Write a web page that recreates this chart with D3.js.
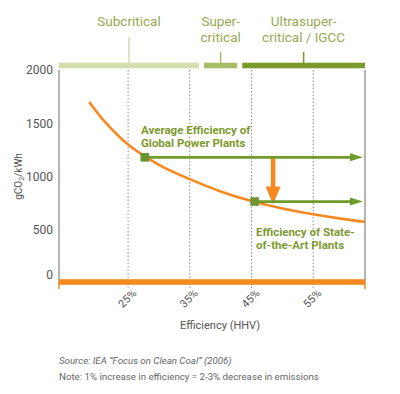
<!DOCTYPE html>
<html>
<head>
<meta charset="utf-8">
<script src="https://cdn.jsdelivr.net/npm/d3@7"></script>
<style>
  html, body { margin: 0; padding: 0; background: #fff; }
  svg { display: block; font-family: Roboto, "Open Sans", sans-serif; }
</style>
</head>
<body>
<div id="chart"></div>
<script>
// Emission curve: efficiency (%) vs gCO2/kWh
const efficiency = [18.7, 21, 25, 30, 35, 40, 45, 50, 55, 60, 63.4];
const emissions = [1700, 1530, 1300, 1110, 975, 860, 770, 700, 645, 600, 575];

const yTicks = [0, 500, 1000, 1500, 2000];
const xTicks = [25, 35, 45, 55];

// Technology bands along the top
const bandNames = [['Subcritical'], ['Super-', 'critical'], ['Ultrasuper-', 'critical / IGCC']];
const bandEdges = [13.8, 36.9, 43.1, 63.4];
const bandColors = ['#d2deac', '#a8bd68', '#7a9a2c'];

// Average vs state-of-the-art plants
const plantEff = [27.7, 45.5];
const plantCO2 = [1180, 765];
const plantLabels = [['Average Efficiency of', 'Global Power Plants'], ['Efficiency of State-', 'of-the-Art Plants']];
const dropEff = 48.5;

(function () {
  const W = 400, H = 394;
  const orange = '#f5891f';
  const green = '#6f9a2c';

  const svg = d3.select('#chart').append('svg')
    .attr('width', W)
    .attr('height', H);

  const x = d3.scaleLinear().domain([13.8, 63.4]).range([59, 365]);
  const y = d3.scaleLinear().domain([0, 2000]).range([283, 70]);
  const top = y(2000), bottom = y(0) - 1;

  // Grid
  svg.append('g')
    .selectAll('line')
    .data(xTicks)
    .join('line')
    .attr('x1', d => x(d)).attr('x2', d => x(d))
    .attr('y1', top).attr('y2', bottom + 6)
    .attr('stroke', '#8a8a8a')
    .attr('stroke-width', 1)
    .attr('stroke-dasharray', '1.5,2');

  // Frame sides
  svg.append('g')
    .selectAll('line')
    .data(x.range())
    .join('line')
    .attr('x1', d => d).attr('x2', d => d)
    .attr('y1', top).attr('y2', bottom)
    .attr('stroke', '#9a9a9a').attr('stroke-width', 1.5);

  // Y axis labels
  const yAxis = d3.axisLeft(y).tickValues(yTicks).tickFormat(d3.format('d')).tickSize(0).tickPadding(6);
  const yG = svg.append('g')
    .attr('transform', `translate(${x.range()[0]},0)`)
    .call(yAxis);
  yG.select('.domain').remove();
  yG.selectAll('text')
    .attr('font-family', 'Roboto, sans-serif')
    .attr('font-size', 12)
    .attr('fill', '#555')
    .attr('dy', d => d === 0 ? '-0.4em' : '0.32em');

  const yTitle = svg.append('text')
    .attr('transform', `translate(22,${y(1000)}) rotate(-90)`)
    .attr('text-anchor', 'middle')
    .attr('font-size', 10)
    .attr('fill', '#555');
  yTitle.append('tspan').text('gCO');
  yTitle.append('tspan').attr('font-size', 7).attr('dy', 2).text('2');
  yTitle.append('tspan').attr('dy', -2).text('/kWh');

  // Bottom orange bar and end ticks
  svg.append('rect')
    .attr('x', x.range()[0]).attr('width', x.range()[1] - x.range()[0])
    .attr('y', bottom - 2.8).attr('height', 5.6)
    .attr('fill', orange);
  svg.append('g')
    .selectAll('line')
    .data(x.range())
    .join('line')
    .attr('x1', d => d).attr('x2', d => d)
    .attr('y1', bottom).attr('y2', bottom + 7)
    .attr('stroke', orange).attr('stroke-width', 1.5);

  // X tick labels
  svg.append('g')
    .selectAll('text')
    .data(xTicks)
    .join('text')
    .attr('transform', d => `translate(${x(d) + 9},${bottom + 12}) rotate(-45)`)
    .attr('text-anchor', 'end')
    .attr('font-size', 11)
    .attr('fill', '#555')
    .text(d => d + '%');

  svg.append('text')
    .attr('x', 220)
    .attr('y', 329)
    .attr('text-anchor', 'middle')
    .attr('font-size', 11)
    .attr('fill', '#555')
    .text('Efficiency (HHV)');

  // Top bands
  const gap = 2.5, bandY = 65.5;
  const bands = bandNames.map((names, i) => ({
    names,
    x0: x(bandEdges[i]) + (i > 0 ? gap : 0),
    x1: x(bandEdges[i + 1]) - (i < bandNames.length - 1 ? gap : 0),
    color: bandColors[i]
  }));
  const bandG = svg.append('g');
  bandG.selectAll('rect')
    .data(bands)
    .join('rect')
    .attr('x', d => d.x0).attr('width', d => d.x1 - d.x0)
    .attr('y', bandY - 2.8).attr('height', 5.6)
    .attr('fill', d => d.color);
  bandG.selectAll('line')
    .data(bands)
    .join('line')
    .attr('x1', d => (d.x0 + d.x1) / 2).attr('x2', d => (d.x0 + d.x1) / 2)
    .attr('y1', d => d.names.length > 1 ? 52 : 37).attr('y2', bandY)
    .attr('stroke', d => d.color).attr('stroke-width', 1.5);
  bandG.selectAll('text')
    .data(bands.flatMap(b => b.names.map((t, i) => ({ t, i, cx: (b.x0 + b.x1) / 2 }))))
    .join('text')
    .attr('x', d => d.cx)
    .attr('y', d => 26 + d.i * 16)
    .attr('text-anchor', 'middle')
    .attr('font-size', 13.5)
    .attr('fill', '#95aa52')
    .text(d => d.t);

  // Emission curve
  const curve = efficiency.map((e, i) => [e, emissions[i]]);
  svg.append('path')
    .datum(curve)
    .attr('d', d3.line().x(d => x(d[0])).y(d => y(d[1])).curve(d3.curveCatmullRom))
    .attr('fill', 'none')
    .attr('stroke', orange)
    .attr('stroke-width', 2.6);

  // Drop arrow
  const ax = x(dropEff);
  const ay0 = y(plantCO2[0]), ay1 = y(plantCO2[1]) + 3;
  svg.append('path')
    .attr('d', `M${ax - 2.3},${ay0} L${ax + 2.3},${ay0} L${ax + 2.3},${ay1 - 18} L${ax + 7.5},${ay1 - 18} L${ax},${ay1} L${ax - 7.5},${ay1 - 18} L${ax - 2.3},${ay1 - 18} Z`)
    .attr('fill', orange);

  // Green horizontal arrows with markers
  const plants = plantEff.map((e, i) => ({ e, v: plantCO2[i], label: plantLabels[i] }));
  const pG = svg.append('g');
  const tipX = x.range()[1] - 2;
  pG.selectAll('line')
    .data(plants)
    .join('line')
    .attr('x1', d => x(d.e)).attr('x2', tipX - 10)
    .attr('y1', d => y(d.v)).attr('y2', d => y(d.v))
    .attr('stroke', green).attr('stroke-width', 2.8);
  pG.selectAll('path')
    .data(plants)
    .join('path')
    .attr('d', d => `M${tipX},${y(d.v)} L${tipX - 13},${y(d.v) - 4} L${tipX - 13},${y(d.v) + 4} Z`)
    .attr('fill', green);
  pG.selectAll('rect')
    .data(plants)
    .join('rect')
    .attr('x', d => x(d.e) - 4.3).attr('y', d => y(d.v) - 4.3)
    .attr('width', 8.6).attr('height', 8.6)
    .attr('fill', '#6d9430');

  // Green labels
  const labelPos = [[141, 134], [256, 236]];
  pG.selectAll('text')
    .data(plants.flatMap((d, k) => d.label.map((t, j) => ({ t, j, k }))))
    .join('text')
    .attr('x', d => labelPos[d.k][0])
    .attr('y', d => labelPos[d.k][1] + d.j * 13)
    .attr('font-size', 11.5)
    .attr('font-weight', 'bold')
    .attr('fill', '#7b9a30')
    .text(d => d.t);

  // Source / note
  svg.append('text')
    .attr('x', 59).attr('y', 364)
    .attr('font-size', 9.7)
    .attr('font-style', 'italic')
    .attr('fill', '#666')
    .text('Source: IEA \u201CFocus on Clean Coal\u201D (2006)');
  svg.append('text')
    .attr('x', 59).attr('y', 380)
    .attr('font-size', 9.7)
    .attr('fill', '#666')
    .text('Note: 1% increase in efficiency = 2-3% decrease in emissions');
})();
</script>
</body>
</html>
